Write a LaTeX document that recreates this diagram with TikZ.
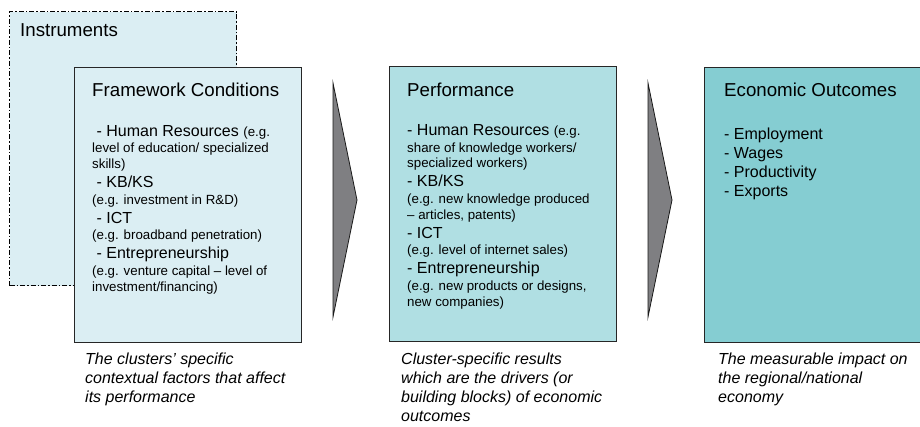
\documentclass[tikz,border=0pt]{standalone}
\usepackage{fontspec}
\setmainfont{Liberation Sans}
\usetikzlibrary{positioning}
\definecolor{palecyan}{HTML}{DBEEF3}
\definecolor{midcyan}{HTML}{B0DFE3}
\definecolor{deepcyan}{HTML}{85CDD2}
\definecolor{chevgray}{HTML}{7F7F82}
\newcommand\lgtxt{\fontsize{16}{15.5}\selectfont}
\newcommand\smtxt{\fontsize{13.3}{15.5}\selectfont}
\tikzset{
    stagebox/.style = {draw=black!85, line width=1pt, anchor=north west,
        minimum width=227pt, minimum height=275pt, inner sep=0pt},
    stagetitle/.style = {anchor=base west, inner sep=0pt, font=\fontsize{18.7}{22}\selectfont},
    % multi-line texts: placed by the baseline of their last line
    stagebody/.style = {anchor=base west, inner sep=0pt, align=left, font=\fontsize{13.3}{15.5}\selectfont},
    stagenote/.style = {anchor=base west, inner sep=0pt, align=left, font=\itshape\fontsize{16}{19}\selectfont},
    chevron/.style = {fill=chevgray, draw=black!90, line width=0.8pt, line join=miter},
}

\begin{document}
\begin{tikzpicture}[x=1pt,y=-1pt]
\useasboundingbox (0,0) rectangle (920,427);

% instruments, behind the framework box
\node[stagebox, fill=palecyan, draw=black, line width=1.4pt,
      dash pattern=on 5pt off 2pt on 1.5pt off 2pt,
      minimum height=274pt] (instr) at (9,11) {};
\node[stagetitle] (instrt) at (20,37) {Instruments};

% framework conditions
\node[stagebox, fill=palecyan] (frame) at (74,67) {};
\node[stagetitle] (framet) at (92,97) {Framework Conditions};
\node[stagebody] (frameb) at (92,291) {%
    \lgtxt\ - Human Resources {\smtxt (e.g.}\\[1.2pt]
    \smtxt level of education/ specialized\\
    \smtxt skills)\\[3.5pt]
    \lgtxt\ - KB/KS\\[1.2pt]
    \smtxt (e.g. investment in R\&D)\\[3.5pt]
    \lgtxt\ - ICT\\[1.2pt]
    \smtxt (e.g. broadband penetration)\\[3.5pt]
    \lgtxt\ - Entrepreneurship\\[1.2pt]
    \smtxt (e.g. venture capital -- level of\\
    \smtxt investment/financing)};
\node[stagenote] (framen) at (85,402) {The clusters' specific\\contextual factors that affect\\its performance};

\draw[chevron] (333,83) -- (333,317) -- (357,200) -- cycle;

% performance
\node[stagebox, fill=midcyan] (perf) at (389,66) {};
\node[stagetitle] (perft) at (407,97) {Performance};
\node[stagebody] (perfb) at (407,306) {%
    \lgtxt - Human Resources {\smtxt (e.g.}\\[1.2pt]
    \smtxt share of knowledge workers/\\
    \smtxt specialized workers)\\[3.5pt]
    \lgtxt - KB/KS\\[1.2pt]
    \smtxt (e.g. new knowledge produced\\
    \smtxt -- articles, patents)\\[3.5pt]
    \lgtxt - ICT\\[1.2pt]
    \smtxt (e.g. level of internet sales)\\[3.5pt]
    \lgtxt - Entrepreneurship\\[1.2pt]
    \smtxt (e.g. new products or designs,\\
    \smtxt new companies)};
\node[stagenote] (perfn) at (401,421) {Cluster-specific results\\which are the drivers (or\\building blocks) of economic\\outcomes};

\draw[chevron] (648,83) -- (648,317) -- (672,200) -- cycle;

% economic outcomes
\node[stagebox, fill=deepcyan] (outc) at (704,67) {};
\node[stagetitle] (outct) at (724,97) {Economic Outcomes};
\node[stagebody, font=\fontsize{16}{19}\selectfont] (outcb) at (724,197) {%
    - Employment\\- Wages\\- Productivity\\- Exports};
\node[stagenote] (outcn) at (718,402) {The measurable impact on\\the regional/national\\economy};

\end{tikzpicture}
\end{document}
